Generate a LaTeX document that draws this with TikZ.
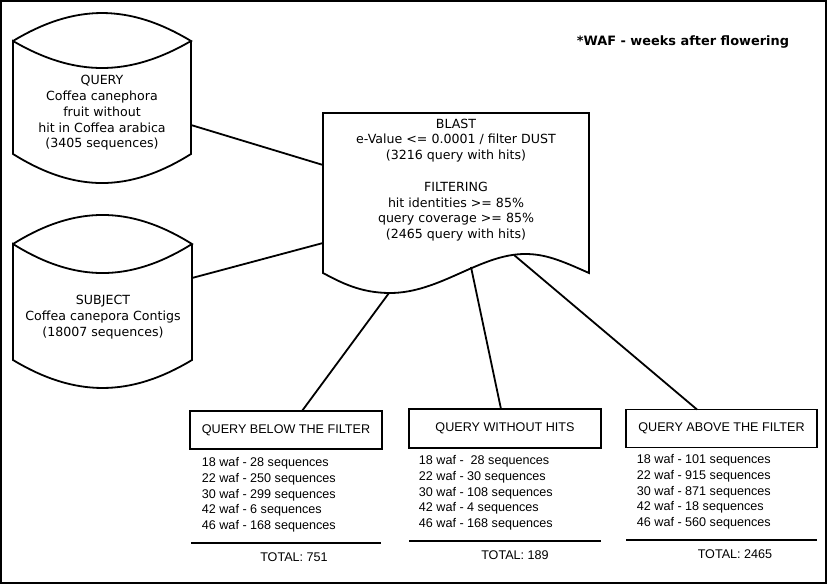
\documentclass[tikz,border=0pt]{standalone}
\usepackage{fontspec}
\setmainfont{DejaVu Sans}
\newfontfamily\arialfont{Liberation Sans}
\tikzset{every picture/.style={
    every path/.style={line width=1.8pt},
}}
\tikzset{dbtext/.style = {align=center, inner sep=0,
                          font=\fontsize{12.6}{15.8}\selectfont}}
\tikzset{boxtitle/.style = {draw, inner sep=0, minimum width=192pt,
                            minimum height=38pt,
                            font=\arialfont\fontsize{12.6}{15.8}\selectfont}}
\tikzset{listtext/.style = {align=left, anchor=north west, inner sep=0,
                            font=\arialfont\fontsize{12.6}{15.8}\selectfont}}
\tikzset{totaltext/.style = {inner sep=0,
                             font=\arialfont\fontsize{12.6}{15.8}\selectfont}}
\tikzset{note/.style = {inner sep=0, font=\bfseries\fontsize{12.9}{15.8}\selectfont}}

\begin{document}
\begin{tikzpicture}[x=1pt,y=-1pt]
      \useasboundingbox (0,0) rectangle (828,586);
      \draw[line width=2pt] (1,1) rectangle (826,583);
      % databases
      \draw (13,41) .. controls (75,3.7) and (129,3.7) .. (191,41)
            .. controls (129,77) and (75,77) .. (13,41)
            -- (13,154) .. controls (75,192.7) and (129,192.7) .. (191,154)
            -- (191,41);
      \draw (13,244) .. controls (75,205.3) and (130,205.3) .. (192,244)
            .. controls (130,282.7) and (75,282.7) .. (13,244)
            -- (13,360) .. controls (75,397.3) and (130,397.3) .. (192,360)
            -- (192,244);
      \node[dbtext] (query) at (102,113) {QUERY\\Coffea canephora\\fruit without\\hit in Coffea arabica\\(3405 sequences)};
      \node[dbtext] (subject) at (103,317) {SUBJECT\\Coffea canepora Contigs\\(18007 sequences)};
      % blast document
      \draw (323,113) -- (589,113) -- (589,273)
            .. controls (560,260) and (545,254) .. (525,254)
            .. controls (480,254) and (440,293) .. (390,293)
            .. controls (360,293) and (340,282) .. (323,273) -- cycle;
      \node[dbtext] (blast) at (456,180) {BLAST\\e-Value <= 0.0001 / filter DUST\\(3216 query with hits)\\[15.8pt]FILTERING\\hit identities >= 85\%\\query coverage >= 85\%\\(2465 query with hits)};
      \node[note] (waf) at (683,42) {*WAF - weeks after flowering};
      \coordinate (qport) at (191,125);
      \coordinate (sport) at (192,278);
      \coordinate (bin1) at (323,165);
      \coordinate (bin2) at (323,243);
      \coordinate (w1) at (389,293);
      \coordinate (w2) at (471,267);
      \coordinate (w3) at (514,255);
      \draw (qport) -- (bin1);
      \draw (sport) -- (bin2);
      % result boxes
      \node[boxtitle] (below) at (286,430) {QUERY BELOW THE FILTER};
      \node[boxtitle, minimum height=39pt] (without) at (505,428.5) {QUERY WITHOUT HITS};
      \node[boxtitle, minimum width=191pt] (above) at (721.5,428.5) {QUERY ABOVE THE FILTER};
      \coordinate (bt1) at (302,411);
      \coordinate (bt2) at (501,409);
      \coordinate (bt3) at (697,409.5);
      \draw (w1) -- (bt1);
      \draw (w2) -- (bt2);
      \draw (w3) -- (bt3);
      \node[listtext] (belowlist) at (201,456.5) {18 waf - 28 sequences\\22 waf - 250 sequences\\30 waf - 299 sequences\\42 waf - 6 sequences\\46 waf - 168 sequences};
      \node[listtext] (withoutlist) at (418,454.5) {18 waf - \ 28 sequences\\22 waf - 30 sequences\\30 waf - 108 sequences\\42 waf - 4 sequences\\46 waf - 168 sequences};
      \node[listtext] (abovelist) at (636,453.5) {18 waf - 101 sequences\\22 waf - 915 sequences\\30 waf - 871 sequences\\42 waf - 18 sequences\\46 waf - 560 sequences};
      \draw (191,543) -- (381,543);
      \draw (409,541) -- (601,541);
      \draw (626,540) -- (817,540);
      \node[totaltext] (belowtotal) at (294,557) {TOTAL: 751};
      \node[totaltext] (withouttotal) at (515,555) {TOTAL: 189};
      \node[totaltext] (abovetotal) at (735,554) {TOTAL: 2465};
    \end{tikzpicture}
\end{document}
